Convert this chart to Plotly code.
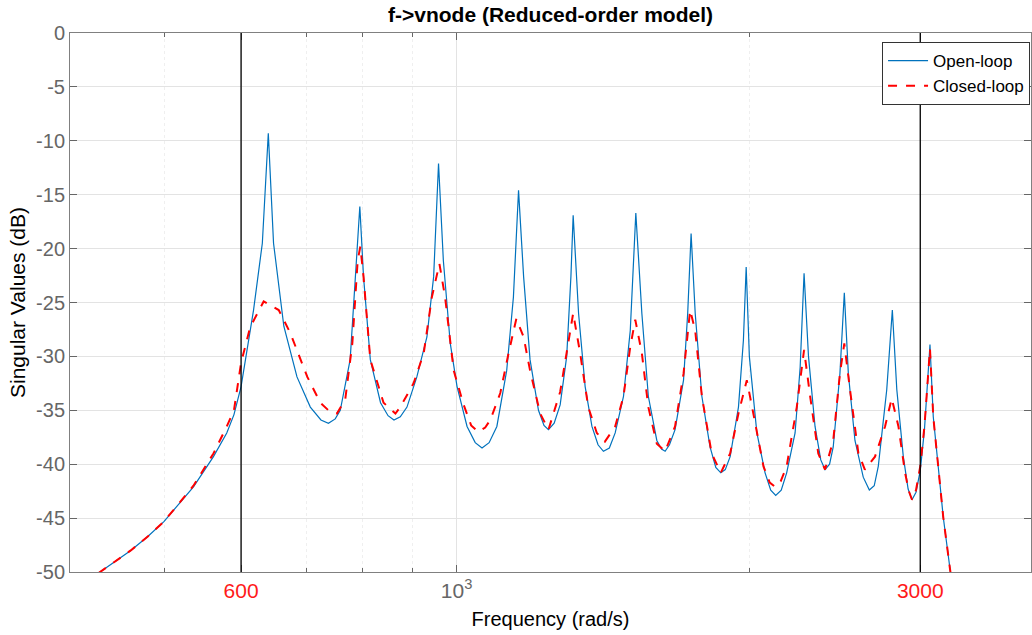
import plotly.graph_objects as go

# ---- data (frequency in rad/s, magnitude in dB) ----
open_freq = [428, 462, 481, 500, 536, 562, 580, 590, 600, 618, 631, 640, 648, 664, 685, 707, 725, 738, 750, 759,
             777, 787, 795, 802, 815, 835, 850, 862, 875, 889, 910, 932, 947, 958, 969, 985, 1001, 1025, 1045,
             1062, 1080, 1100, 1126, 1144, 1158, 1172, 1190, 1214, 1230, 1243, 1260, 1278, 1298, 1311, 1318,
             1335, 1356, 1378, 1398, 1416, 1436, 1456, 1485, 1509, 1529, 1551, 1575, 1607, 1625, 1639, 1656,
             1678, 1712, 1729, 1743, 1760, 1788, 1823, 1848, 1870, 1890, 1912, 1950, 1973, 1986, 2001, 2037,
             2077, 2105, 2130, 2158, 2186, 2230, 2257, 2278, 2302, 2338, 2370, 2394, 2420, 2441, 2480, 2506,
             2530, 2570, 2621, 2659, 2690, 2716, 2771, 2808, 2838, 2882, 2915, 2942, 2970, 3000, 3030, 3050,
             3070, 3094, 3131, 3168, 3219, 3226]
open_db = [-50.1, -48.0, -46.7, -45.3, -42.1, -39.3, -37.1, -35.4, -32.8, -25.7, -19.5, -9.3, -19.5, -27.2, -31.9,
           -34.7, -35.9, -36.2, -35.8, -35.0, -30.3, -22.6, -16.1, -22.6, -30.3, -34.3, -35.5, -35.9, -35.6,
           -34.7, -31.9, -28.2, -22.6, -12.1, -21.1, -28.8, -32.8, -36.5, -38.0, -38.5, -38.0, -36.5, -31.3,
           -24.5, -14.6, -22.6, -30.3, -35.0, -36.4, -36.8, -36.2, -34.5, -30.0, -22.6, -16.9, -26.0, -32.8,
           -36.5, -38.2, -38.8, -38.5, -37.1, -33.7, -27.6, -16.7, -26.0, -33.7, -37.8, -38.6, -38.8, -38.2,
           -36.8, -32.2, -26.0, -18.6, -26.0, -33.7, -38.4, -40.3, -40.8, -40.5, -39.3, -34.7, -28.5, -21.7,
           -30.0, -37.1, -40.8, -42.4, -42.9, -42.4, -40.8, -37.1, -31.0, -22.3, -30.0, -36.5, -39.6, -40.5,
           -40.0, -38.4, -31.6, -24.1, -31.6, -37.8, -41.2, -42.4, -42.0, -40.2, -33.1, -25.7, -33.1, -39.3,
           -42.3, -43.3, -42.6, -40.6, -36.8, -33.0, -28.9, -35.6, -40.2, -44.9, -49.7, -50.3]

closed_freq = [428, 462, 481, 500, 536, 562, 580, 590, 600, 613, 633, 656, 674, 702, 724, 740, 753, 768, 781, 791,
               796, 802, 815, 841, 865, 875, 903, 925, 943, 960, 973, 993, 1016, 1035, 1053, 1070, 1083, 1109,
               1131, 1152, 1172, 1190, 1219, 1243, 1278, 1303, 1318, 1340, 1366, 1394, 1421, 1456, 1485, 1509,
               1527, 1551, 1575, 1607, 1639, 1678, 1712, 1739, 1760, 1788, 1830, 1870, 1912, 1950, 1989, 2020,
               2069, 2100, 2127, 2155, 2186, 2239, 2278, 2311, 2356, 2394, 2441, 2480, 2506, 2540, 2591, 2631,
               2695, 2760, 2804, 2849, 2894, 2920, 2942, 2970, 3000, 3030, 3050, 3070, 3094, 3131, 3168, 3219,
               3226]
closed_db = [-50.1, -48.0, -46.7, -45.3, -42.0, -39.0, -36.5, -35.0, -30.6, -27.3, -24.9, -25.7, -27.8, -31.9, -34.3,
             -35.1, -35.3, -34.0, -28.8, -21.1, -19.8, -22.6, -30.3, -34.3, -35.3, -34.7, -32.5, -29.7, -24.5,
             -21.4, -24.5, -31.3, -34.4, -36.4, -37.0, -36.6, -35.9, -33.4, -29.7, -26.5, -28.2, -31.3, -35.3,
             -36.8, -33.3, -28.8, -26.0, -29.7, -34.7, -37.1, -37.9, -36.5, -33.7, -29.1, -26.6, -29.7, -34.7,
             -38.1, -38.8, -36.5, -31.6, -25.7, -27.6, -33.7, -39.0, -40.8, -39.0, -35.3, -32.2, -35.3, -40.2,
             -41.7, -42.1, -41.6, -40.2, -34.7, -29.4, -33.7, -39.0, -40.5, -37.8, -31.6, -28.8, -33.1, -39.0,
             -40.5, -39.3, -36.5, -33.9, -36.5, -40.8, -42.5, -43.3, -42.4, -40.2, -36.5, -32.8, -29.3, -35.6,
             -40.2, -44.9, -49.7, -50.3]

marker_freqs = [600, 3000]
x_tick_vals = [600, 1000, 3000]
x_tick_text = ['<span style="color:#ff1a1a">600</span>', '10<sup>3</sup>',
               '<span style="color:#ff1a1a">3000</span>']
x_minor_vals = [500, 700, 800, 900, 2000]
y_tick_vals = [-50, -45, -40, -35, -30, -25, -20, -15, -10, -5, 0]
y_tick_text = ["-50", "-45", "-40", "-35", "-30", "-25", "-20", "-15", "-10", "-5", "0"]

FONT = "Liberation Sans, Arial, sans-serif"

fig = go.Figure()
fig.add_trace(go.Scatter(x=open_freq, y=open_db, mode="lines", name="Open-loop",
                         line=dict(color="#0072BD", width=1.2)))
fig.add_trace(go.Scatter(x=closed_freq, y=closed_db, mode="lines", name="Closed-loop",
                         line=dict(color="#FF0000", width=2, dash="dash")))

for f in marker_freqs:
    fig.add_shape(type="line", xref="x", yref="paper", x0=f, x1=f, y0=0, y1=1,
                  line=dict(color="#000000", width=1.3), layer="above")

fig.update_layout(
    width=1032, height=635,
    margin=dict(l=70, r=1, t=33, b=63),
    paper_bgcolor="white", plot_bgcolor="white",
    font=dict(family=FONT, size=20, color="#666666"),
    title=dict(text="<b>f->vnode (Reduced-order model)</b>", x=0.5, xref="paper", xanchor="center",
               y=0.977, yanchor="middle", font=dict(family=FONT, size=21, color="#000000")),
    showlegend=True,
    legend=dict(x=0.845, xanchor="left", y=0.983, yanchor="top", bgcolor="white",
                bordercolor="#333333", borderwidth=1, font=dict(family=FONT, size=17, color="#000000"),
                tracegroupgap=0, itemwidth=40),
)

fig.update_xaxes(
    type="log", range=[2.6021, 3.5911], automargin=False,
    tickmode="array", tickvals=x_tick_vals, ticktext=x_tick_text,
    ticks="inside", ticklen=7, tickcolor="#666666",
    showgrid=True, gridcolor="#e3e3e3", gridwidth=1,
    minor=dict(tickvals=x_minor_vals, showgrid=True, gridcolor="#efefef", griddash="dot",
               ticks="inside", ticklen=4, tickcolor="#666666"),
    showline=True, linecolor="#808080", linewidth=1, mirror="allticks",
    zeroline=False,
    tickfont=dict(family=FONT, size=21, color="#666666"),
    title=dict(text="Frequency (rad/s)", font=dict(family=FONT, size=20, color="#000000"), standoff=10),
)
fig.update_yaxes(
    range=[-50, 0], automargin=False, tickmode="array", tickvals=y_tick_vals, ticktext=y_tick_text,
    ticks="inside", ticklen=7, tickcolor="#666666",
    showgrid=True, gridcolor="#e3e3e3", gridwidth=1,
    showline=True, linecolor="#808080", linewidth=1, mirror="allticks",
    zeroline=False,
    tickfont=dict(family=FONT, size=20, color="#666666"),
    title=dict(text="Singular Values (dB)", font=dict(family=FONT, size=21, color="#000000"), standoff=4),
)

fig.write_html("out.html", config={"displayModeBar": False},
               post_script="document.body.style.margin='0';document.body.style.overflow='hidden';")
